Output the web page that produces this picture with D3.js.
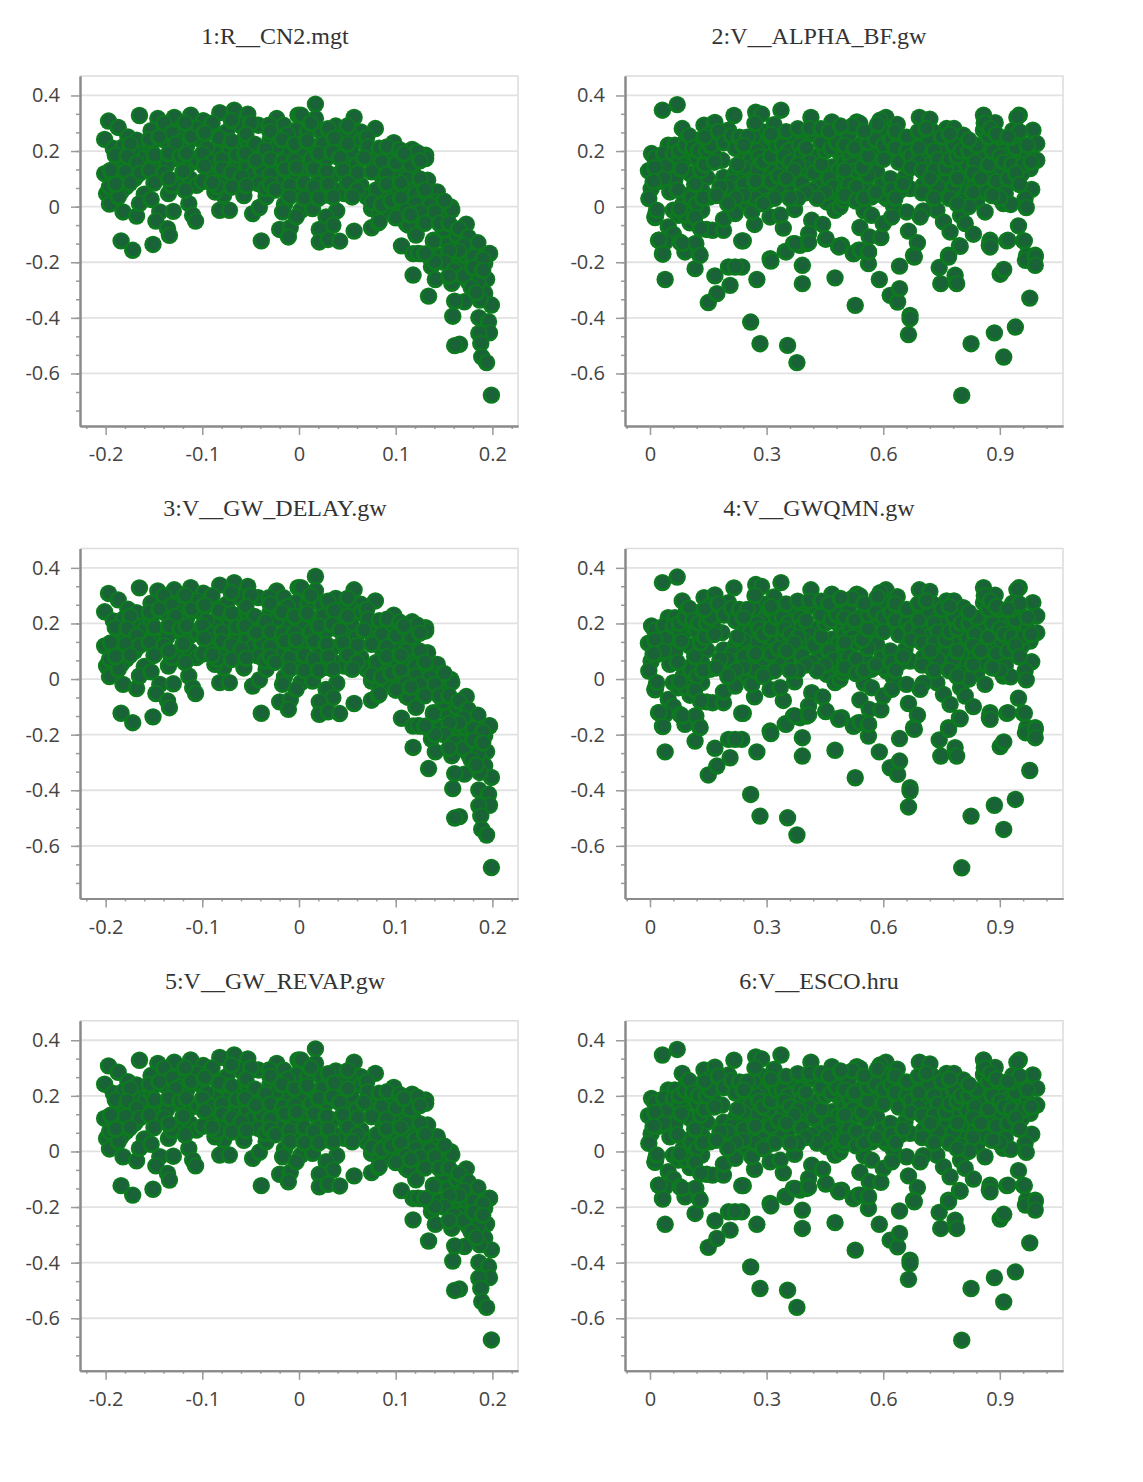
<!DOCTYPE html>
<html lang="en">
<head>
<meta charset="utf-8">
<title>Parameter sensitivity dotty plots</title>
<script src="https://d3js.org/d3.v7.min.js"></script>
<style>
  body { margin: 0; background: #fff; }
  .title { font-family: "Liberation Serif", serif; font-size: 24px; fill: #333; text-anchor: middle; }
  .tick text { font-family: "Open Sans", sans-serif; font-size: 20px; fill: #444; }
  .axis path.domain { stroke: #8a8a8a; stroke-width: 2; }
  .axis line { stroke: #9a9a9a; stroke-width: 1.5; }
</style>
</head>
<body>
<svg width="1143" height="1482"></svg>
<script>
const panelTitles = ["1:R__CN2.mgt", "2:V__ALPHA_BF.gw", "3:V__GW_DELAY.gw", "4:V__GWQMN.gw", "5:V__GW_REVAP.gw", "6:V__ESCO.hru"];

const yTicks = [0.4, 0.2, 0, -0.2, -0.4, -0.6];
const leftXTicks = [-0.2, -0.1, 0, 0.1, 0.2];
const rightXTicks = [0, 0.3, 0.6, 0.9];

const leftPoints = [
[-0.197,0.308],[-0.165,0.328],[-0.187,0.285],[-0.201,0.242],[-0.192,0.209],[-0.177,0.251],[-0.146,0.317],[-0.129,0.321],[-0.112,0.329],[-0.099,0.309],
[-0.082,0.338],[-0.067,0.347],[-0.053,0.333],[-0.153,0.273],[-0.140,0.299],[-0.125,0.269],[-0.106,0.281],[-0.091,0.269],[-0.075,0.269],[-0.061,0.293],
[-0.042,0.293],[-0.023,0.317],[-0.016,0.293],[-0.001,0.329],[-0.031,0.293],[-0.201,0.119],[-0.199,0.047],[-0.196,0.009],[-0.182,-0.019],[-0.168,-0.034],
[-0.160,0.045],[-0.165,0.011],[-0.153,0.026],[-0.144,-0.019],[-0.148,-0.052],[-0.130,-0.017],[-0.136,-0.079],[-0.134,-0.103],[-0.184,-0.123],[-0.172,-0.157],
[-0.151,-0.136],[-0.135,0.047],[-0.114,0.011],[-0.110,-0.031],[-0.107,-0.052],[-0.082,-0.013],[-0.072,-0.013],[-0.078,0.041],[-0.087,0.053],[-0.057,0.040],
[-0.048,-0.025],[-0.041,-0.003],[-0.034,0.035],[-0.015,0.008],[-0.017,-0.019],[-0.020,-0.082],[-0.009,-0.075],[-0.011,-0.109],[-0.039,-0.123],
[-0.182,0.167],[-0.172,0.131],[-0.185,0.095],[-0.179,0.071],[-0.170,0.101],[-0.192,0.101],[-0.196,0.071],[-0.184,0.053],[-0.187,0.035],[-0.161,0.215],
[-0.153,0.206],[-0.158,0.161],[-0.147,0.131],[-0.146,0.104],[-0.165,0.173],[-0.173,0.203],[-0.168,0.239],[-0.182,0.215],[-0.139,0.239],[-0.132,0.263],
[-0.123,0.233],[-0.116,0.221],[-0.113,0.155],[-0.129,0.173],[-0.137,0.149],[-0.125,0.095],[-0.113,0.101],[-0.106,0.077],[-0.118,0.059],[-0.132,0.077],
[-0.101,0.239],[-0.087,0.191],[-0.096,0.209],[-0.106,0.167],[-0.091,0.125],[-0.077,0.101],[-0.085,0.071],[-0.094,0.101],[-0.065,0.143],[-0.072,0.203],
[-0.079,0.239],[-0.063,0.227],[-0.054,0.239],[-0.054,0.143],[-0.047,0.119],[-0.039,0.131],[-0.042,0.083],[-0.035,0.065],[-0.023,0.143],[-0.013,0.191],
[-0.006,0.263],[-0.018,0.101],[-0.030,0.239],[-0.041,0.191],[-0.023,0.215],[-0.009,0.119],[-0.003,0.059],[-0.006,0.095],
[0.017,0.369],[0.002,0.329],[0.017,0.317],[0.057,0.321],[0.038,0.290],[0.079,0.281],[-0.003,0.275],[0.009,0.269],[0.023,0.269],[0.064,0.269],
[0.052,0.263],[0.030,0.239],[0.044,0.251],[0.064,0.239],[0.098,0.230],[0.117,0.206],[0.131,0.185],[0.131,0.173],[0.075,0.191],[0.087,0.185],
[0.097,0.191],[0.111,0.173],[0.002,0.197],[0.016,0.215],[0.028,0.173],[0.040,0.215],[0.054,0.197],[0.047,0.155],[0.059,0.149],[0.078,0.161],
[0.104,0.119],[0.118,0.119],[0.092,0.143],[0.008,0.137],[0.021,0.107],[0.035,0.113],[-0.003,0.101],[0.009,0.059],[-0.001,0.071],[0.026,0.041],
[0.037,0.059],[0.047,0.047],[0.064,0.077],[0.070,0.035],[0.087,0.095],[0.099,0.065],[0.113,0.065],[0.089,0.035],[0.115,0.011],[0.133,0.095],
[0.143,0.053],[0.127,0.029],[0.142,0.017],[0.157,-0.001],[0.156,-0.013],[0.102,-0.007],[0.075,-0.007],[0.083,-0.025],[0.002,-0.013],[-0.003,-0.037],
[0.014,-0.007],[0.039,-0.015],[0.028,-0.037],[0.035,-0.067],[0.021,-0.082],[0.057,-0.088],[0.075,-0.076],[0.082,-0.058],[0.021,-0.127],[0.030,-0.118],
[0.042,-0.124],[0.106,-0.141],[0.111,-0.061],[0.121,-0.097],[0.125,-0.043],[0.137,-0.037],[0.149,-0.043],[0.139,-0.121],[0.151,-0.079],[0.173,-0.063],
[0.161,-0.097],[0.156,-0.139],[0.171,-0.121],[0.182,-0.145],[0.197,-0.169],[0.118,-0.169],[0.125,-0.169],[0.135,-0.181],[0.146,-0.178],
[0.118,-0.246],[0.134,-0.322],[0.123,-0.168],[0.139,-0.126],[0.145,-0.180],[0.137,-0.216],[0.141,-0.262],[0.158,-0.276],[0.158,-0.204],[0.166,-0.180],
[0.177,-0.132],[0.183,-0.162],[0.197,-0.168],[0.192,-0.204],[0.175,-0.216],[0.194,-0.261],[0.187,-0.288],[0.192,-0.312],[0.199,-0.354],[0.171,-0.342],
[0.161,-0.340],[0.159,-0.394],[0.186,-0.399],[0.196,-0.414],[0.197,-0.454],[0.186,-0.456],[0.188,-0.492],[0.166,-0.495],[0.161,-0.500],[0.189,-0.540],
[0.194,-0.561],[0.199,-0.678],[0.166,-0.228],[0.183,-0.240],[0.175,-0.270],[0.187,-0.336],[0.154,-0.132],[0.163,-0.102],[0.149,-0.084],[0.158,-0.012],
[0.132,-0.036],[0.113,-0.066],[0.121,-0.102],[0.102,-0.036],[0.090,-0.018],[0.083,-0.054],[0.171,-0.174],
// inside the dense band, where single dots are hard to separate
[-0.118,0.30],[-0.09,0.30],[-0.07,0.31],[-0.05,0.30],[-0.03,0.27],[-0.012,0.26],[0.012,0.30],[0.03,0.28],[0.05,0.29],[0.07,0.25],
[-0.175,0.225],[-0.155,0.24],[-0.145,0.25],[-0.128,0.225],[-0.112,0.25],[-0.098,0.265],[-0.083,0.245],[-0.07,0.235],[-0.055,0.26],[-0.046,0.225],
[-0.035,0.205],[-0.018,0.24],[-0.005,0.225],[0.008,0.235],[0.024,0.225],[0.036,0.245],[0.05,0.225],[0.071,0.215],[0.083,0.21],[0.091,0.215],[0.104,0.205],[0.122,0.195],
[-0.19,0.185],[-0.178,0.18],[-0.168,0.155],[-0.15,0.185],[-0.135,0.19],[-0.123,0.18],[-0.117,0.19],[-0.1,0.19],[-0.09,0.16],[-0.08,0.17],
[-0.065,0.185],[-0.056,0.19],[-0.045,0.165],[-0.03,0.17],[-0.017,0.16],[-0.005,0.165],[0.012,0.17],[0.02,0.19],[0.034,0.195],[0.042,0.175],
[0.067,0.175],[0.085,0.16],[0.1,0.155],[0.115,0.15],[0.125,0.165],[0.108,0.19],
[-0.195,0.13],[-0.18,0.125],[-0.165,0.12],[-0.155,0.13],[-0.14,0.12],[-0.12,0.125],[-0.098,0.145],[-0.08,0.135],[-0.07,0.12],[-0.06,0.105],
[-0.03,0.115],[-0.015,0.135],[-0.003,0.14],[0.015,0.135],[0.028,0.125],[0.045,0.13],[0.06,0.12],[0.075,0.125],[0.09,0.115],[0.11,0.1],[0.125,0.1],
[-0.19,0.08],[-0.175,0.085],[-0.15,0.085],[-0.135,0.1],[-0.1,0.09],[-0.09,0.085],[-0.07,0.07],[-0.055,0.075],[-0.03,0.08],[-0.025,0.06],
[-0.01,0.075],[0.005,0.085],[0.015,0.07],[0.03,0.08],[0.05,0.085],[0.06,0.06],[0.08,0.06],[0.09,0.08],[0.105,0.085],[0.12,0.045],[0.13,0.06],
[-0.01,0.035],[0.005,0.03],[0.02,0.03],[0.035,0.035],[0.055,0.035],[0.075,0.015],[0.085,0.005],[0.095,0.02],[0.105,0.03],[0.12,0.01],
[0.135,0.005],[0.15,0.02],[0.14,-0.02],[0.125,-0.02],[0.11,-0.015],[0.1,-0.04],[0.115,-0.03],[0.13,-0.06],[0.145,-0.06],[0.155,-0.06],
[0.165,-0.08],[0.175,-0.11],[0.185,-0.13],[0.17,-0.14],[0.18,-0.18],[0.19,-0.19],[0.165,-0.16],[0.155,-0.16],[0.15,-0.2],[0.16,-0.23],
[0.17,-0.25],[0.18,-0.22],[0.185,-0.27],[0.19,-0.23],[0.178,-0.29],[0.183,-0.31],[0.155,-0.25],[0.14,-0.2],[0.13,-0.17]
];

const rightPoints = [
[0.032,0.347],[0.070,0.367],[0.083,0.281],[0.139,0.293],[0.167,0.303],[0.216,0.328],[0.272,0.340],[0.287,0.333],[0.337,0.347],[0.319,0.295],
[0.414,0.321],[0.468,0.305],[0.004,0.191],[-0.004,0.129],[0.003,0.064],[-0.003,0.029],[0.015,-0.027],[0.013,-0.039],[0.047,0.221],[0.064,0.221],
[0.026,0.167],[0.056,0.137],[0.064,0.098],[0.051,0.053],[0.094,0.245],[0.124,0.239],[0.090,0.173],[0.120,0.173],[0.103,0.119],[0.146,0.105],
[0.133,0.059],[0.154,0.035],[0.099,0.041],[0.060,-0.013],[0.103,-0.001],[0.133,-0.013],[0.073,-0.031],[0.103,-0.058],[0.047,-0.073],[0.060,-0.099],
[0.022,-0.121],[0.039,-0.127],[0.077,-0.127],[0.118,-0.133],[0.032,-0.169],[0.090,-0.163],[0.126,-0.169],[0.146,-0.082],[0.161,-0.085],[0.189,-0.085],
[0.189,-0.046],[0.240,-0.123],[0.269,-0.064],[0.343,-0.077],[0.372,-0.010],[0.309,-0.037],[0.335,-0.031],[0.219,-0.025],[0.249,0.011],[0.262,-0.019],
[0.197,0.047],[0.223,0.065],[0.262,0.065],[0.189,0.105],[0.219,0.119],[0.249,0.110],[0.185,0.167],[0.163,0.185],[0.202,0.275],[0.155,0.263],
[0.180,0.239],[0.197,0.245],[0.245,0.245],[0.236,0.197],[0.257,0.167],[0.288,0.270],[0.296,0.227],[0.335,0.239],[0.360,0.257],[0.326,0.197],
[0.309,0.149],[0.343,0.149],[0.292,0.101],[0.318,0.059],[0.288,0.047],[0.352,0.059],[0.373,0.107],[0.390,0.083],[0.373,0.203],[0.399,0.269],
[0.416,0.263],[0.455,0.263],[0.485,0.275],[0.425,0.179],[0.468,0.143],[0.438,0.095],[0.416,0.059],[0.455,0.017],[0.485,0.047],[0.476,-0.013],
[0.489,-0.001],[0.416,-0.049],[0.444,-0.064],[0.408,-0.097],[0.452,-0.117],[0.485,-0.142],[0.369,-0.133],[0.386,-0.139],[0.403,-0.133],[0.348,-0.161],
[0.309,-0.187],[0.489,0.191],[0.485,0.131],[0.502,0.095],
[0.532,0.305],[0.540,0.299],[0.607,0.321],[0.592,0.311],[0.636,0.296],[0.693,0.321],[0.720,0.315],[0.763,0.281],[0.782,0.281],[0.806,0.257],
[0.858,0.329],[0.888,0.302],[0.950,0.329],[0.944,0.321],[0.985,0.275],[0.995,0.227],[0.995,0.167],[0.982,0.062],[0.965,0.029],[0.968,-0.003],
[0.933,0.273],[0.858,0.275],[0.729,0.269],[0.510,0.251],[0.566,0.263],[0.600,0.269],[0.540,0.221],[0.579,0.209],[0.643,0.233],[0.618,0.197],
[0.678,0.227],[0.716,0.239],[0.652,0.167],[0.708,0.185],[0.497,0.191],[0.540,0.167],[0.583,0.161],[0.519,0.119],[0.583,0.125],[0.515,0.047],
[0.553,0.077],[0.570,0.035],[0.596,0.077],[0.618,0.101],[0.656,0.105],[0.669,0.065],[0.643,0.059],[0.609,0.029],[0.626,0.005],[0.660,-0.019],
[0.497,0.023],[0.703,0.077],[0.725,0.041],[0.759,0.053],[0.742,0.107],[0.716,0.149],[0.755,0.197],[0.781,0.221],[0.785,0.149],[0.815,0.149],
[0.763,0.095],[0.806,0.095],[0.836,0.077],[0.811,0.047],[0.841,0.023],[0.862,0.053],[0.849,0.185],[0.858,0.131],[0.875,0.215],[0.888,0.167],
[0.909,0.227],[0.926,0.191],[0.952,0.233],[0.956,0.191],[0.978,0.137],[0.956,0.119],[0.931,0.089],[0.901,0.131],[0.879,0.101],[0.896,0.059],
[0.914,0.047],[0.909,0.011],[0.928,0.008],[0.862,-0.019],[0.799,-0.031],[0.811,-0.061],[0.832,-0.099],[0.875,-0.121],[0.873,-0.139],[0.918,-0.123],
[0.961,-0.123],[0.948,-0.069],[0.738,-0.013],[0.703,-0.015],[0.695,-0.037],[0.755,-0.055],[0.772,-0.091],[0.665,-0.088],[0.688,-0.130],[0.678,-0.175],
[0.796,-0.140],[0.768,-0.175],[0.551,-0.015],[0.570,-0.031],[0.540,-0.075],[0.564,-0.109],[0.594,-0.111],[0.600,-0.061],[0.622,-0.037],[0.493,-0.139],
[0.536,-0.157],[0.562,-0.163],[0.523,-0.169],[0.969,-0.175],[0.991,-0.175],
[0.039,-0.262],[0.116,-0.223],[0.167,-0.249],[0.150,-0.345],[0.172,-0.313],[0.206,-0.283],[0.202,-0.217],[0.236,-0.217],[0.219,-0.217],[0.275,-0.262],
[0.259,-0.415],[0.283,-0.493],[0.311,-0.196],[0.354,-0.499],[0.378,-0.561],[0.392,-0.211],[0.392,-0.277],[0.476,-0.256],[0.486,-0.145],[0.528,-0.355],
[0.562,-0.205],[0.590,-0.262],[0.618,-0.319],[0.637,-0.343],[0.642,-0.295],[0.642,-0.214],[0.669,-0.391],[0.669,-0.403],[0.665,-0.460],[0.680,-0.181],
[0.744,-0.219],[0.748,-0.277],[0.768,-0.181],[0.785,-0.247],[0.789,-0.277],[0.802,-0.679],[0.826,-0.493],[0.886,-0.454],[0.910,-0.541],[0.940,-0.433],
[0.977,-0.329],[0.901,-0.243],[0.910,-0.226],[0.966,-0.193],[0.991,-0.181],[0.991,-0.211],[0.524,-0.169],[0.541,-0.157],[0.562,-0.163],[0.350,-0.163],
[0.023,-0.121],[0.033,-0.171],[0.116,-0.133],[0.129,-0.175],[0.236,-0.123],[0.082,-0.133],[0.013,-0.037],[0.017,-0.013],[0.373,-0.133],[0.408,-0.129],
[0.453,-0.115],[0.798,-0.143],[0.875,-0.127],[0.875,-0.145],[0.921,-0.121],[0.963,-0.123],
// inside the dense band, where single dots are hard to separate
[0.012,0.175],[0.022,0.12],[0.035,0.19],[0.04,0.145],[0.012,0.14],[0.02,0.09],[0.035,0.1],[0.008,0.09],[0.06,0.19],[0.075,0.17],
[0.08,0.135],[0.075,0.2],[0.09,0.22],[0.1,0.255],[0.11,0.21],[0.07,0.06],[0.085,0.01],[0.09,-0.03],[0.075,-0.01],[0.105,0.03],
[0.12,0.01],[0.135,0.03],[0.115,-0.04],[0.13,-0.08],[0.115,0.08],[0.13,0.13],[0.14,0.15],[0.125,0.2],[0.145,0.2],[0.155,0.22],
[0.14,0.25],[0.165,0.16],[0.175,0.27],[0.19,0.23],[0.21,0.255],[0.22,0.21],[0.23,0.25],[0.25,0.22],[0.265,0.25],[0.275,0.2],
[0.28,0.18],[0.26,0.125],[0.275,0.13],[0.24,0.14],[0.225,0.15],[0.23,0.09],[0.21,0.09],[0.2,0.07],[0.24,0.08],[0.27,0.09],
[0.29,0.16],[0.31,0.18],[0.31,0.25],[0.325,0.22],[0.34,0.22],[0.355,0.2],[0.345,0.18],[0.36,0.16],[0.385,0.22],[0.39,0.19],
[0.4,0.21],[0.41,0.16],[0.395,0.14],[0.38,0.15],[0.37,0.13],[0.42,0.12],[0.44,0.15],[0.45,0.2],[0.44,0.23],[0.465,0.21],
[0.48,0.23],[0.5,0.22],[0.5,0.16],[0.515,0.18],[0.525,0.21],[0.52,0.15],[0.53,0.13],[0.5,0.13],[0.46,0.1],[0.47,0.07],
[0.45,0.05],[0.43,0.03],[0.4,0.05],[0.38,0.03],[0.36,0.03],[0.33,0.07],[0.31,0.09],[0.33,0.11],[0.35,0.1],[0.3,0.02],
[0.32,0.03],[0.27,0.03],[0.29,0.01],[0.24,0.04],[0.22,0.03],[0.2,0.01],[0.18,0.07],[0.17,0.04],
[0.5,0.06],[0.51,0.08],[0.53,0.07],[0.5,0.04],[0.53,0.02],[0.55,0.03],[0.56,0.11],[0.545,0.14],[0.56,0.18],[0.56,0.23],
[0.58,0.24],[0.6,0.22],[0.62,0.24],[0.63,0.21],[0.6,0.17],[0.64,0.16],[0.66,0.2],[0.67,0.18],[0.69,0.21],[0.69,0.16],
[0.67,0.14],[0.7,0.13],[0.73,0.2],[0.74,0.17],[0.73,0.13],[0.76,0.14],[0.77,0.17],[0.79,0.18],[0.8,0.2],[0.82,0.2],
[0.84,0.22],[0.835,0.16],[0.83,0.12],[0.85,0.1],[0.87,0.15],[0.88,0.2],[0.9,0.18],[0.9,0.25],[0.87,0.25],[0.91,0.16],
[0.93,0.15],[0.94,0.21],[0.97,0.18],[0.96,0.15],[0.98,0.16],[0.93,0.25],[0.95,0.27],[0.97,0.22],[0.89,0.09],[0.92,0.1],
[0.94,0.12],[0.95,0.08],[0.9,0.03],[0.88,0.04],[0.74,0.07],[0.72,0.1],[0.7,0.05],[0.73,0.03],[0.78,0.07],[0.79,0.1],
[0.77,0.03],[0.8,0.02],[0.83,0.05],[0.82,0.0],[0.79,0.01],[0.6,0.04],[0.62,0.06],[0.63,0.03],[0.58,0.05],[0.65,0.08],
[0.585,0.295],[0.52,0.29],[0.55,0.27],[0.63,0.27],[0.66,0.25],[0.69,0.27],[0.71,0.28],[0.75,0.25],[0.77,0.26],[0.82,0.24],
[0.86,0.3],[0.875,0.28],[0.89,0.26],[0.92,0.25],[0.27,0.3],[0.31,0.26],[0.35,0.27],[0.38,0.28],[0.41,0.28],[0.44,0.28],
[0.46,0.27],[0.49,0.29],[0.25,0.25],[0.24,0.22]
];

const svg = d3.select("svg");
const plotH = 350, plotW = 438;
const rowTop = [76, 548.4, 1020.8];
const colLeft = [80, 625];

// y scale is the same in every panel
const y = d3.scaleLinear().domain([-0.789, 0.47]).range([plotH, 0]);
const yMinor = d3.range(-0.7333, 0.4, 0.0667);
const xLeft = d3.scaleLinear().domain([-0.2265, 0.2265]).range([0, plotW]);
const xRight = d3.scaleLinear().domain([-0.0643, 1.0625]).range([0, plotW]);

panelTitles.forEach((title, i) => {
  const isLeft = i % 2 === 0;
  const x = isLeft ? xLeft : xRight;
  const xTicks = isLeft ? leftXTicks : rightXTicks;
  const xMinor = isLeft ? d3.range(-0.22, 0.23, 0.02) : d3.range(-0.06, 1.05, 0.06);
  const points = isLeft ? leftPoints : rightPoints;
  const left = colLeft[i % 2], top = rowTop[Math.floor(i / 2)];

  svg.append("text").attr("class", "title")
    .attr("x", left + (isLeft ? 195 : 194)).attr("y", top - 32)
    .text(title);

  const g = svg.append("g").attr("transform", `translate(${left},${top})`);

  // plot frame and grid
  g.append("path").attr("d", `M0,0H${plotW}V${plotH}`).attr("fill", "none").attr("stroke", "#dcdcdc").attr("stroke-width", 1.5);
  g.selectAll(".grid").data(yTicks).enter().append("line")
    .attr("x1", 0).attr("x2", plotW)
    .attr("y1", d => y(d)).attr("y2", d => y(d))
    .attr("stroke", "#e2e2e2").attr("stroke-width", 1.8);

  // axes
  g.append("g").attr("class", "axis")
    .call(d3.axisLeft(y).tickValues(yMinor).tickSize(4).tickSizeOuter(0).tickFormat(""));
  g.append("g").attr("class", "axis")
    .call(d3.axisLeft(y).tickValues(yTicks).tickSize(9).tickSizeOuter(0).tickPadding(11).tickFormat(String));
  g.append("g").attr("class", "axis").attr("transform", `translate(0,${plotH})`)
    .call(d3.axisBottom(x).tickValues(xMinor).tickSize(3).tickSizeOuter(0).tickFormat(""));
  g.append("g").attr("class", "axis").attr("transform", `translate(0,${plotH})`)
    .call(d3.axisBottom(x).tickValues(xTicks).tickSize(9).tickSizeOuter(0).tickPadding(12).tickFormat(String));

  // dots: bright green rim with a darker body sitting slightly up and right
  const dot = g.selectAll(".dot").data(points).enter().append("g")
    .attr("class", "dot")
    .attr("transform", d => `translate(${x(d[0])},${y(d[1])})`);
  dot.append("circle").attr("r", 8.7).attr("fill", "#0e7a20");
  dot.append("circle").attr("r", 6.4).attr("cx", 0.6).attr("cy", -0.6).attr("fill", "#1a6338");
});
</script>
</body>
</html>
